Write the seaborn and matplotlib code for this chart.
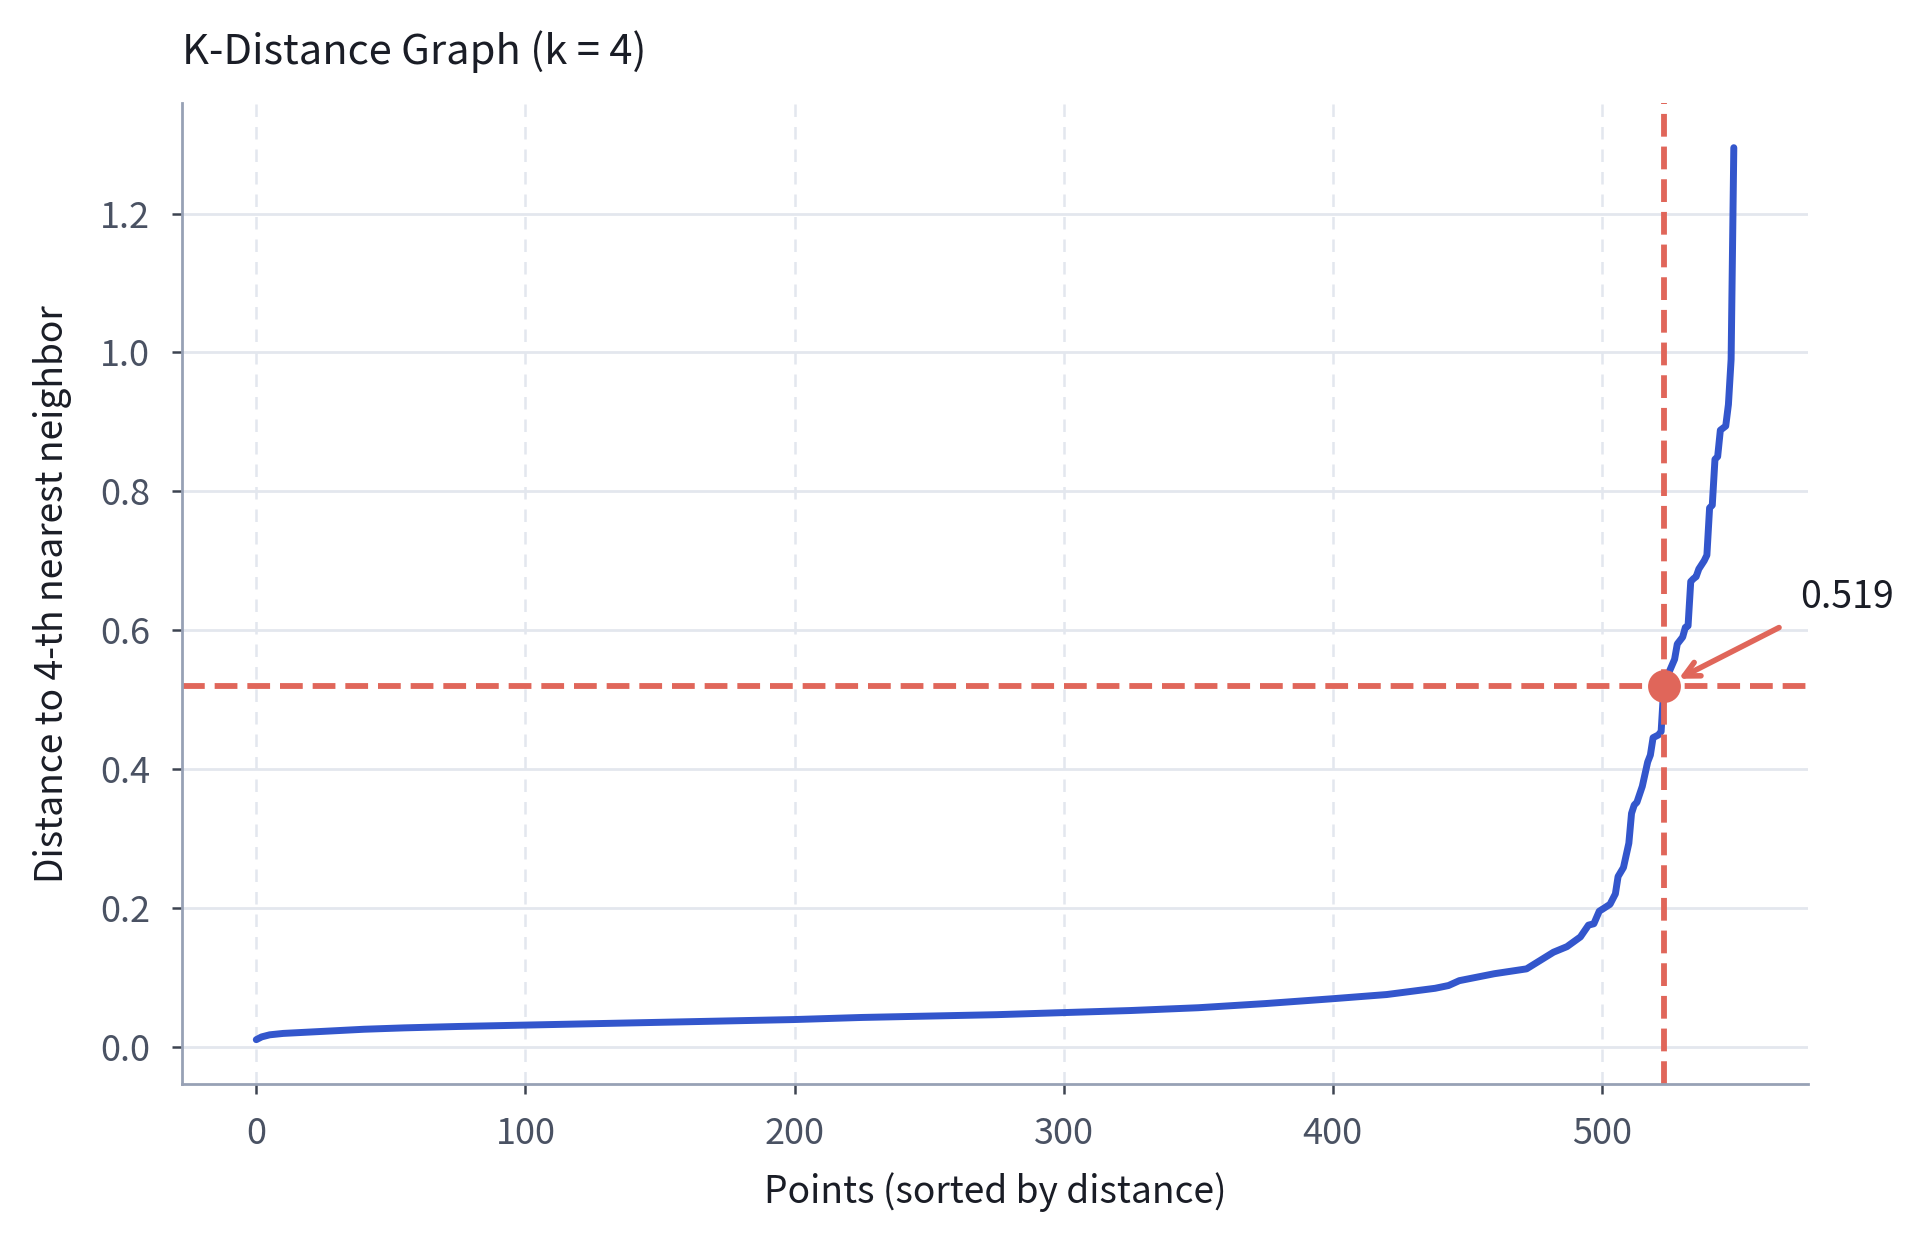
import numpy as np
import pandas as pd
import matplotlib
matplotlib.use("Agg")
import matplotlib.pyplot as plt
import seaborn as sns

# k-distance values (index of sorted point, distance)
point_idx = [0, 2, 5, 10, 25, 40, 55, 75, 100, 125, 150, 175, 200, 225, 250,
             275, 300, 325, 350, 375, 400, 420, 438, 443, 447, 460, 472, 477,
             482, 487, 492, 495, 497, 499, 503, 505, 506, 508, 510, 511, 512,
             513, 515, 517, 518, 519, 521, 522, 523, 525, 527, 528, 530, 531,
             532, 533, 534, 535, 536, 538, 539, 540, 541, 542, 543, 544, 546,
             547, 548, 549]
k_dist = [0.010, 0.014, 0.017, 0.019, 0.022, 0.025, 0.027, 0.029, 0.031, 0.033,
          0.035, 0.037, 0.039, 0.042, 0.044, 0.046, 0.049, 0.052, 0.056, 0.062,
          0.069, 0.075, 0.084, 0.088, 0.095, 0.105, 0.112, 0.124, 0.136, 0.144,
          0.158, 0.175, 0.177, 0.195, 0.205, 0.220, 0.245, 0.258, 0.293, 0.336,
          0.348, 0.352, 0.375, 0.410, 0.420, 0.445, 0.449, 0.454, 0.519, 0.540,
          0.558, 0.580, 0.590, 0.604, 0.606, 0.670, 0.674, 0.677, 0.688, 0.700,
          0.708, 0.776, 0.780, 0.846, 0.850, 0.888, 0.894, 0.925, 0.990, 1.295]

k = 4
knee_idx = 523
knee_eps = 0.519

df = pd.DataFrame({"idx": point_idx, "dist": k_dist})

sns.set_theme(style="white")
plt.rcParams["font.family"] = ["Noto Sans CJK KR", "DejaVu Sans"]

blue = "#3356cc"
red = "#e0665a"

fig, ax = plt.subplots(figsize=(9.6, 6.21), dpi=200)
fig.subplots_adjust(left=0.095, right=0.9415, top=0.917, bottom=0.127)

ax.grid(axis="y", color="#e3e7ee", linewidth=1.0, linestyle="-")
ax.grid(axis="x", color="#e3e7ee", linewidth=0.9, linestyle=(0, (5, 4)))
ax.set_axisbelow(True)

sns.lineplot(data=df, x="idx", y="dist", color=blue, linewidth=2.5, ax=ax)

ax.axhline(knee_eps, color=red, linewidth=2.1, linestyle=(0, (3.9, 1.7)))
ax.axvline(knee_idx, color=red, linewidth=2.1, linestyle=(0, (3.9, 1.7)))
ax.scatter([knee_idx], [knee_eps], s=140, color=red, zorder=5, linewidths=0)

ax.annotate(f"{knee_eps:.3f}", xy=(knee_idx, knee_eps), xytext=(49, 25),
            textcoords="offset points", ha="left", va="bottom",
            fontsize=13.5, color="#1a1d26",
            arrowprops=dict(arrowstyle="->", color=red, lw=2.0,
                            relpos=(0, 0), shrinkA=6, shrinkB=6),
            annotation_clip=False)

ax.set_title(f"K-Distance Graph (k = {k})", loc="left", fontsize=15,
             color="#1a1d26", pad=14)
ax.set_xlabel("Points (sorted by distance)", fontsize=13.4, color="#1a1d26",
              labelpad=7)
ax.set_ylabel(f"Distance to {k}-th nearest neighbor", fontsize=13.4,
              color="#1a1d26", labelpad=10)

ax.set_xticks([0, 100, 200, 300, 400, 500])
ax.set_yticks([0.0, 0.2, 0.4, 0.6, 0.8, 1.0, 1.2])
ax.yaxis.set_major_formatter(matplotlib.ticker.FormatStrFormatter("%.1f"))
ax.tick_params(axis="both", labelsize=13, labelcolor="#4a5263",
               color="#3d4451", length=3.6, width=0.9, pad=8,
               bottom=True, left=True)

sns.despine(ax=ax)
for side in ["left", "bottom"]:
    ax.spines[side].set_color("#97a1b5")
    ax.spines[side].set_linewidth(1.0)

fig.savefig("out.png", dpi=200)
